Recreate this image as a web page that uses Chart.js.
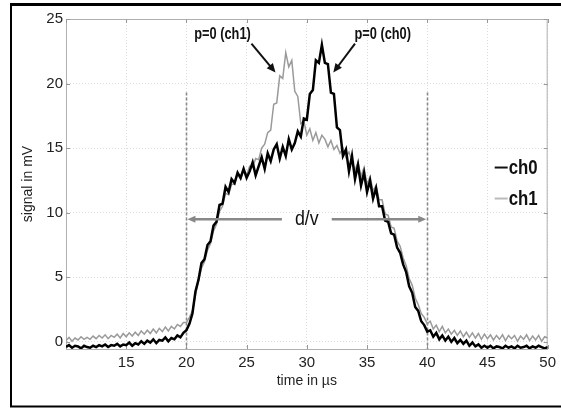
<!DOCTYPE html>
<html>
<head>
<meta charset="utf-8">
<script src="https://cdn.jsdelivr.net/npm/chart.js@4.4.1/dist/chart.umd.min.js"></script>
<style>
  html,body{margin:0;padding:0;background:#fff}
  #wrap{width:561px;height:410px;position:relative}
</style>
</head>
<body>
<div id="wrap"><canvas id="c"></canvas></div>
<script>
// sample times in µs
const times=[
 10,10.25,10.5,10.75,11,11.25,11.5,11.75,
 12,12.25,12.5,12.75,13,13.25,13.5,13.75,
 14,14.25,14.5,14.75,15,15.25,15.5,15.75,
 16,16.25,16.5,16.75,17,17.25,17.5,17.75,
 18,18.25,18.5,18.75,19,19.25,19.5,19.75,
 20,20.25,20.5,20.75,21,21.25,21.5,21.75,
 22,22.25,22.5,22.75,23,23.25,23.5,23.75,
 24,24.25,24.5,24.75,25,25.25,25.5,25.75,
 26,26.25,26.5,26.75,27,27.25,27.5,27.75,
 28,28.25,28.5,28.75,29,29.25,29.5,29.75,
 30,30.25,30.5,30.75,31,31.25,31.5,31.75,
 32,32.25,32.5,32.75,33,33.25,33.5,33.75,
 34,34.25,34.5,34.75,35,35.25,35.5,35.75,
 36,36.25,36.5,36.75,37,37.25,37.5,37.75,
 38,38.25,38.5,38.75,39,39.25,39.5,39.75,
 40,40.25,40.5,40.75,41,41.25,41.5,41.75,
 42,42.25,42.5,42.75,43,43.25,43.5,43.75,
 44,44.25,44.5,44.75,45,45.25,45.5,45.75,
 46,46.25,46.5,46.75,47,47.25,47.5,47.75,
 48,48.25,48.5,48.75,49,49.25,49.5,49.75,
 50
]
// signal in mV
const ch0=[
 -0.4,-0.25,-0.45,-0.3,-0.35,-0.5,-0.3,-0.4,
 -0.45,-0.3,-0.4,-0.25,-0.35,-0.2,-0.4,-0.25,
 -0.3,-0.15,-0.35,-0.2,-0.25,-0.05,-0.3,-0.1,
 -0.2,0.05,-0.15,0.1,-0.05,0.2,-0.1,0.15,
 0.1,0.35,0.05,0.3,0.2,0.5,0.35,0.7,
 0.9,1.4,2.2,3.9,4.8,6.1,6.4,7.5,
 7.8,9.0,9.3,10.6,10.7,12.0,11.6,12.6,
 12.3,13.1,12.7,13.4,12.7,13.2,13.9,12.9,
 13.6,14.3,13.4,14.6,14.0,14.9,15.3,14.2,
 15.1,14.4,15.7,14.9,15.4,16.3,15.9,17.3,
 17.2,19.2,19.5,21.8,21.6,23.0,21.6,21.5,
 19.3,19.2,16.6,16.4,14.4,14.9,13.2,14.4,
 12.6,13.7,12.1,13.1,11.6,12.5,11.1,11.9,
 10.5,10.5,9.4,9.3,8.4,8.3,7.3,6.9,
 6.0,5.4,4.3,3.8,2.7,2.4,1.6,1.3,
 0.8,0.9,0.4,0.7,0.2,0.5,0.1,0.4,
 0.0,0.3,-0.1,0.15,-0.15,0.1,-0.3,-0.05,
 -0.35,-0.2,-0.45,-0.3,-0.45,-0.3,-0.5,-0.35,
 -0.4,-0.5,-0.3,-0.45,-0.35,-0.5,-0.3,-0.45,
 -0.4,-0.3,-0.5,-0.35,-0.45,-0.3,-0.4,-0.5,
 -0.4
]
const ch1=[
 0.1,0.35,0.05,0.3,0.15,0.4,0.2,0.35,
 0.2,0.45,0.25,0.5,0.3,0.55,0.25,0.5,
 0.35,0.6,0.3,0.65,0.4,0.7,0.45,0.75,
 0.5,0.85,0.6,0.9,0.65,1.0,0.7,1.05,
 0.8,1.15,0.85,1.2,1.0,1.35,1.2,1.5,
 1.5,1.9,2.4,3.6,4.7,5.7,6.2,7.1,
 7.6,8.6,9.1,10.1,10.5,11.5,11.4,12.2,
 12.2,13.0,12.6,13.3,12.9,13.6,13.5,14.2,
 14.1,15.0,15.3,16.2,16.4,18.4,18.5,20.6,
 20.4,22.4,21.3,21.8,19.4,19.0,16.9,17.1,
 16.0,16.5,15.6,16.2,15.4,16.0,15.7,15.1,
 15.6,14.9,15.2,14.6,15.0,14.3,14.7,14.0,
 13.3,13.9,12.8,13.5,12.2,12.8,11.7,12.1,
 11.0,11.0,9.9,9.8,8.9,8.8,7.8,7.4,
 6.5,5.9,4.9,4.4,3.4,2.9,2.2,1.9,
 1.4,1.6,1.0,1.3,0.8,1.2,0.7,1.0,
 0.6,0.9,0.5,0.85,0.4,0.75,0.35,0.7,
 0.3,0.65,0.2,0.6,0.25,0.55,0.15,0.5,
 0.2,0.55,0.1,0.5,0.25,0.5,0.05,0.45,
 0.2,0.55,0.1,0.45,0.15,0.5,0.05,0.4,
 0.3
]
const xTicks=[10,15,20,25,30,35,40,45,50]
const yTicks=[0,5,10,15,20,25]
const xRange=[10,50]
const yRange=[-0.55,25]
// gate markers: dashed lines at 20 and 40 µs, flight time arrow between them
const gateTimes=[20,40]
const gateTop=19.3
const flightLevel=9.5
const flightLabel='d/v'
const notes=[
  {text:'p=0 (ch1)',at:[23.0,23.8],from:[25.4,23.1],to:[27.4,20.85]},
  {text:'p=0 (ch0)',at:[36.3,23.8],from:[34.0,23.1],to:[32.2,20.85]}
]
const legendAt=[45.6,13.5]

const FONT="'Liberation Sans',Arial,sans-serif"

function arrowHead(ctx,x1,y1,x2,y2,len,wid){
  const a=Math.atan2(y2-y1,x2-x1)
  ctx.beginPath()
  ctx.moveTo(x2,y2)
  ctx.lineTo(x2-len*Math.cos(a)+wid*Math.sin(a),y2-len*Math.sin(a)-wid*Math.cos(a))
  ctx.lineTo(x2-len*Math.cos(a)-wid*Math.sin(a),y2-len*Math.sin(a)+wid*Math.cos(a))
  ctx.closePath()
  ctx.fill()
}
function arrow(ctx,x1,y1,x2,y2,len,wid){
  const a=Math.atan2(y2-y1,x2-x1)
  ctx.beginPath()
  ctx.moveTo(x1,y1)
  ctx.lineTo(x2-len*0.6*Math.cos(a),y2-len*0.6*Math.sin(a))
  ctx.stroke()
  arrowHead(ctx,x1,y1,x2,y2,len,wid)
}
// text squeezed horizontally like the reference print
function tallText(ctx,txt,px,py,sx){
  ctx.save()
  ctx.translate(px,py)
  ctx.scale(sx,1)
  ctx.fillText(txt,0,0)
  ctx.restore()
}

const decor={
  id:'decor',
  beforeDatasetsDraw(chart){
    const {ctx,chartArea:ca,scales:{x,y}}=chart
    ctx.save()
    // plot box top/right
    ctx.strokeStyle='#b0b0b0'
    ctx.lineWidth=1
    ctx.beginPath()
    ctx.moveTo(ca.left,ca.top+0.5);ctx.lineTo(ca.right-0.5,ca.top+0.5);ctx.lineTo(ca.right-0.5,ca.bottom)
    ctx.stroke()
    // inner tick marks
    ctx.strokeStyle='#999'
    ctx.beginPath()
    yTicks.forEach(v=>{
      const py=Math.round(y.getPixelForValue(v))+0.5
      ctx.moveTo(ca.left,py);ctx.lineTo(ca.left+4,py)
      ctx.moveTo(ca.right,py);ctx.lineTo(ca.right-4,py)
    })
    xTicks.forEach(v=>{
      const px=Math.round(x.getPixelForValue(v))+0.5
      ctx.moveTo(px,ca.bottom);ctx.lineTo(px,ca.bottom-4)
      ctx.moveTo(px,ca.top);ctx.lineTo(px,ca.top+4)
    })
    ctx.stroke()
    // dashed gate lines
    ctx.strokeStyle='#8a8a8a'
    ctx.lineWidth=1.6
    ctx.setLineDash([3,2])
    gateTimes.forEach(t=>{
      const px=Math.round(x.getPixelForValue(t))+0.5
      ctx.beginPath()
      ctx.moveTo(px,y.getPixelForValue(gateTop))
      ctx.lineTo(px,ca.bottom)
      ctx.stroke()
    })
    ctx.restore()
  },
  afterDatasetsDraw(chart){
    const {ctx,scales:{x,y}}=chart
    ctx.save()
    // flight time arrow
    const yl=y.getPixelForValue(flightLevel)
    const xa=x.getPixelForValue(gateTimes[0]), xb=x.getPixelForValue(gateTimes[1])
    const xm=(xa+xb)/2
    ctx.font='21px '+FONT
    const tw=ctx.measureText(flightLabel).width*0.85
    ctx.strokeStyle='#888';ctx.fillStyle='#888';ctx.lineWidth=2.6
    arrow(ctx,xm-tw/2-13,yl,xa+1,yl,8,3.5)
    arrow(ctx,xm+tw/2+13,yl,xb-1,yl,8,3.5)
    ctx.fillStyle='#111'
    ctx.textAlign='center';ctx.textBaseline='middle'
    tallText(ctx,flightLabel,xm,yl,0.85)
    // peak notes
    notes.forEach(n=>{
      ctx.fillStyle='#111';ctx.strokeStyle='#111';ctx.lineWidth=2
      ctx.font='bold 16px '+FONT
      tallText(ctx,n.text,x.getPixelForValue(n.at[0]),y.getPixelForValue(n.at[1]),0.8)
      arrow(ctx,x.getPixelForValue(n.from[0]),y.getPixelForValue(n.from[1]),
        x.getPixelForValue(n.to[0]),y.getPixelForValue(n.to[1]),9,4)
    })
    // legend
    const lx=x.getPixelForValue(legendAt[0]), ly=y.getPixelForValue(legendAt[1])
    ctx.textAlign='left'
    ctx.font='bold 21px '+FONT
    chart.data.datasets.forEach((ds,i)=>{
      const yy=ly+i*31
      ctx.strokeStyle=i===0?'#111':'#bbb'
      ctx.lineWidth=2
      ctx.beginPath();ctx.moveTo(lx,yy);ctx.lineTo(lx+13,yy);ctx.stroke()
      ctx.fillStyle='#111'
      tallText(ctx,ds.label,lx+14,yy+1,0.8)
    })
    ctx.restore()
  },
  afterDraw(chart){
    const {ctx,width}=chart
    ctx.save()
    ctx.strokeStyle='#000'
    ctx.lineWidth=3
    ctx.beginPath();ctx.moveTo(10,4.5);ctx.lineTo(width,4.5);ctx.stroke()
    ctx.lineWidth=2
    ctx.beginPath();ctx.moveTo(11,4);ctx.lineTo(11,407);ctx.stroke()
    ctx.beginPath();ctx.moveTo(10,406.5);ctx.lineTo(width,406.5);ctx.stroke()
    ctx.restore()
  }
}

const toPts=vals=>vals.map((v,i)=>({x:times[i],y:v}))

new Chart(document.getElementById('c'),{
  type:'line',
  data:{
    datasets:[
      {label:'ch0',data:toPts(ch0),borderColor:'#000',borderWidth:2.5,pointRadius:0,tension:0},
      {label:'ch1',data:toPts(ch1),borderColor:'#9a9a9a',borderWidth:1.5,pointRadius:0,tension:0}
    ]
  },
  options:{
    responsive:true,
    maintainAspectRatio:false,
    animation:false,
    layout:{padding:{top:19,right:10,left:0,bottom:0}},
    plugins:{legend:{display:false},tooltip:{enabled:false}},
    scales:{
      x:{
        type:'linear',min:xRange[0],max:xRange[1],
        afterBuildTicks:s=>{s.ticks=xTicks.map(v=>({value:v}))},
        afterFit:s=>{s.height=61},
        ticks:{color:'#222',padding:5,maxRotation:0,font:{family:FONT,size:15},callback:v=>v===xRange[0]?'':v},
        grid:{color:'#dcdcdc',drawTicks:false},
        border:{color:'#b0b0b0',dash:[1,2]},
        title:{display:true,text:'time in µs',color:'#222',font:{family:FONT,size:14},padding:{top:0,bottom:20}}
      },
      y:{
        type:'linear',min:yRange[0],max:yRange[1],
        afterBuildTicks:s=>{s.ticks=yTicks.map(v=>({value:v}))},
        afterFit:s=>{s.width=66},
        ticks:{color:'#222',padding:3,font:{family:FONT,size:15}},
        grid:{color:'#dcdcdc',drawTicks:false},
        border:{color:'#b0b0b0',dash:[1,2]},
        title:{display:true,text:'signal in mV',color:'#222',font:{family:FONT,size:14},padding:{top:20,bottom:0}}
      }
    }
  },
  plugins:[decor]
})
</script>
</body>
</html>
